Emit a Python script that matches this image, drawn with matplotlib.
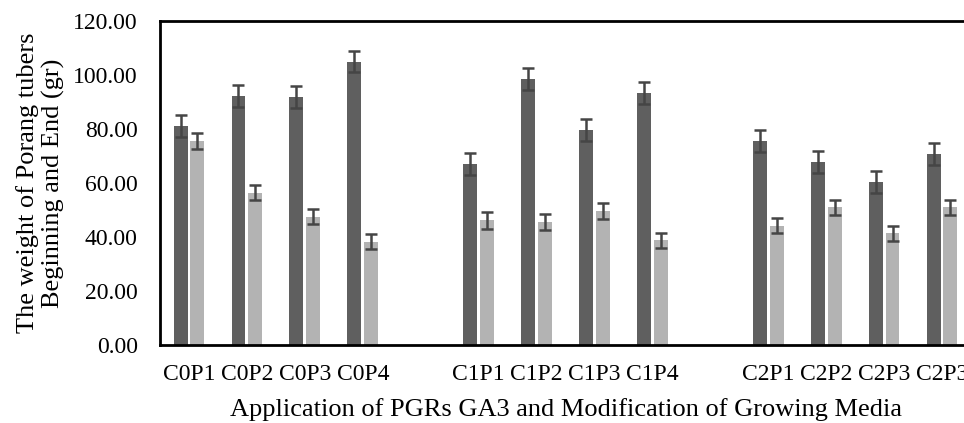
import numpy as np
from matplotlib import pyplot as plt

# slots with an empty one between the C0 / C1 / C2 groups
categories = ["C0P1", "C0P2", "C0P3", "C0P4", "",
              "C1P1", "C1P2", "C1P3", "C1P4", "",
              "C2P1", "C2P2", "C2P3", "C2P3"]
beginning = [81.1, 92.2, 91.7, 104.9, np.nan,
             67.1, 98.3, 79.7, 93.1, np.nan,
             75.4, 67.7, 60.4, 70.6]
end = [75.5, 56.4, 47.5, 38.2, np.nan,
       46.1, 45.4, 49.5, 38.8, np.nan,
       44.2, 50.9, 41.4, 50.9]
beginning_err = [4.0, 4.1, 4.1, 4.0, np.nan,
                 4.1, 4.1, 4.1, 4.1, np.nan,
                 4.1, 4.1, 4.0, 4.0]
end_err = [3.0, 2.8, 2.8, 2.8, np.nan,
           3.0, 2.9, 2.9, 2.8, np.nan,
           2.9, 2.8, 2.8, 2.8]
y_ticks = [0, 20, 40, 60, 80, 100, 120]

plt.rcParams['font.family'] = ['Liberation Serif', 'DejaVu Serif']

W, H = 964, 423
fig = plt.figure(figsize=(W / 100, H / 100), dpi=100)
# right edge of the plot area runs past the picture, as in the original
ax = fig.add_axes([160 / W, (H - 345) / H, (971 - 160) / W, (345 - 20.7) / H])

x = np.arange(len(categories))
bw = 0.24
off = 0.145
err_kw = dict(ecolor='#454545', elinewidth=1.8, capsize=4.3, capthick=1.8)
ax.bar(x - off, beginning, bw, color='#5f5f5f', yerr=beginning_err, error_kw=err_kw)
ax.bar(x + off, end, bw, color='#b3b3b3', yerr=end_err, error_kw=err_kw)

ax.set_xlim(-0.5, len(categories) - 0.5)
ax.set_ylim(0, 120)
ax.set_xticks(x)
ax.set_xticklabels(categories)
ax.set_yticks(y_ticks)
ax.set_yticklabels([f"{v:.2f}" for v in y_ticks])
ax.set_yticks([0, 120], minor=True)
ax.tick_params(axis='x', length=0, labelsize=17, pad=14)
ax.tick_params(axis='y', which='major', length=0, labelsize=17, pad=16)
ax.tick_params(axis='y', which='minor', length=4.5, width=2, color='black')

for s in ax.spines.values():
    s.set_linewidth(2)
    s.set_color('black')

ax.set_xlabel("Application of PGRs GA3 and Modification of Growing Media",
              fontsize=19, labelpad=9)
ax.set_ylabel("The weight of Porang tubers\nBeginning and End (gr)",
              fontsize=19, labelpad=6, linespacing=1.15)

fig.savefig("out.png", dpi=100)
